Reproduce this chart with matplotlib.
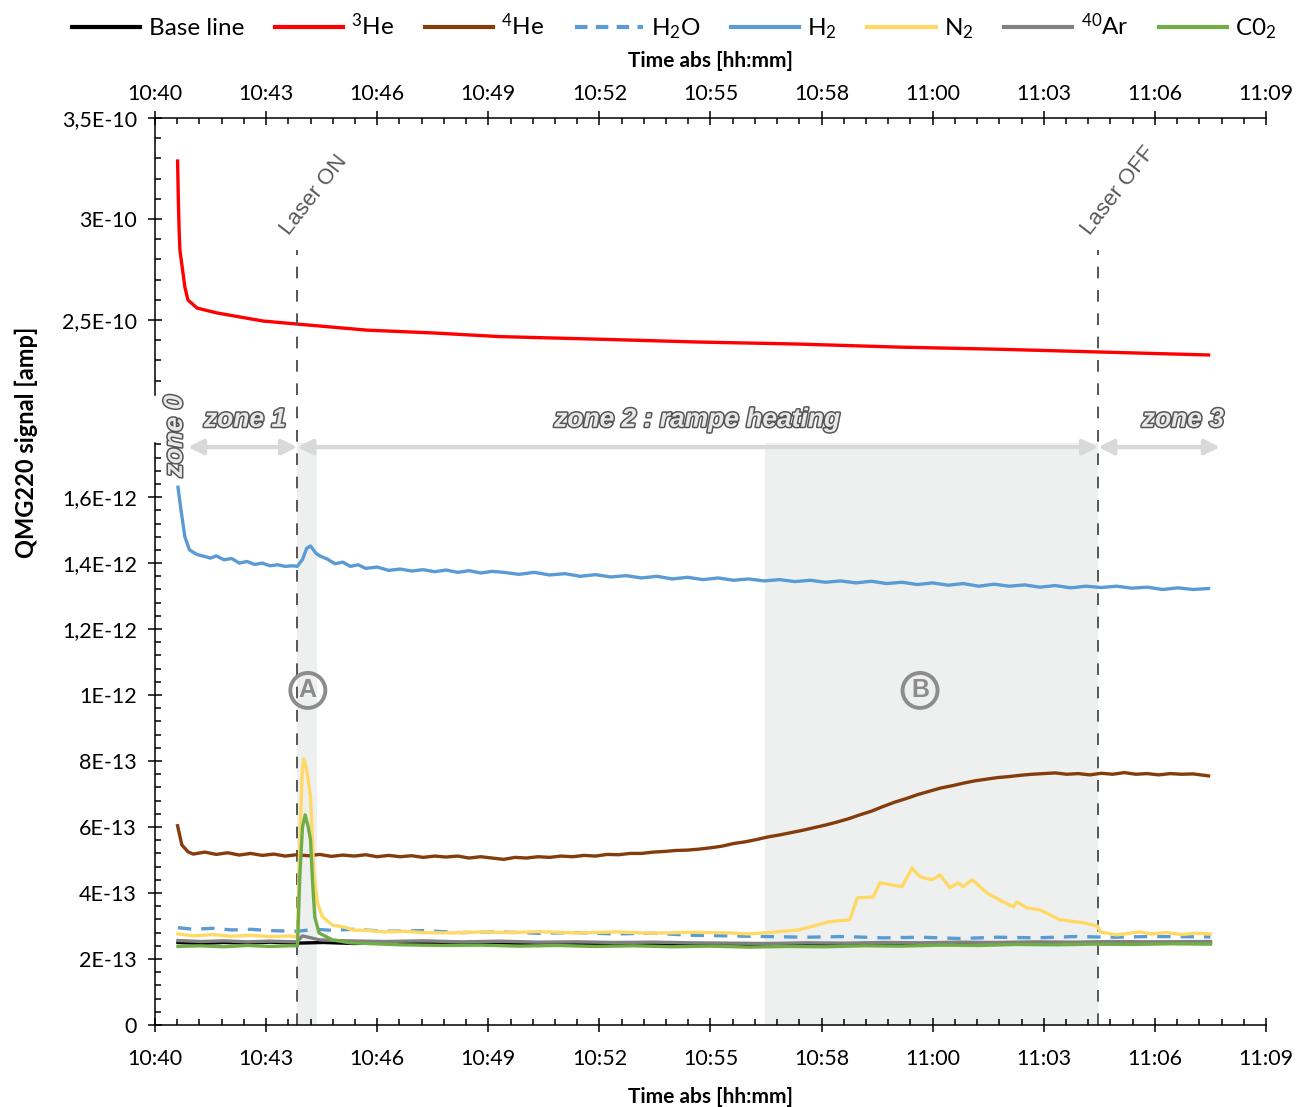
import numpy as np
import matplotlib
matplotlib.use('Agg')
import matplotlib.pyplot as plt
import matplotlib.patheffects as pe
from matplotlib.lines import Line2D
from matplotlib.ticker import FixedLocator, FixedFormatter, MultipleLocator, AutoMinorLocator

plt.rcParams['font.family'] = ['Lato', 'DejaVu Sans']
plt.rcParams['mathtext.fontset'] = 'custom'
plt.rcParams['mathtext.rm'] = 'Lato'
plt.rcParams['mathtext.it'] = 'Lato:italic'
plt.rcParams['mathtext.bf'] = 'Lato:bold'

# time in minutes after 10:40
x_ticklabels = ['10:40', '10:43', '10:46', '10:49', '10:52', '10:55',
                '10:58', '11:00', '11:03', '11:06', '11:09']
laser_on = 3.71
laser_off = 24.62
peak_a_end = 4.23
zone_b_start = 15.93

# 3He (E-10 amp)
he3_t = [0.59, 0.61, 0.63, 0.65, 0.78, 0.86, 1.10, 1.62, 2.82, 3.71, 5.53, 7.26,
         9.0, 11.6, 14.2, 16.8, 19.4, 22.1, 24.6, 27.5]
he3_v = [3.287, 3.09, 2.945, 2.847, 2.663, 2.599, 2.559, 2.535, 2.495, 2.480, 2.450,
         2.436, 2.418, 2.405, 2.391, 2.381, 2.366, 2.355, 2.342, 2.327]

# H2 (E-13 amp)
h2_t = [0.60, 0.68, 0.78, 0.90, 1.10, 1.30, 1.45, 1.6, 1.8, 2.0, 2.2, 2.4, 2.6, 2.8,
        3.0, 3.2, 3.4, 3.6, 3.71, 3.85, 3.96, 4.06, 4.2, 4.3, 4.5, 4.7, 4.9, 5.1,
        5.3, 5.5, 5.8, 6.1, 6.4, 6.7, 7.0, 7.3, 7.6, 7.9, 8.2, 8.5, 8.8, 9.1, 9.5,
        9.9, 10.3, 10.7, 11.1, 11.5, 11.9, 12.3, 12.7, 13.1, 13.5, 13.9, 14.3, 14.7,
        15.1, 15.5, 15.9, 16.3, 16.7, 17.1, 17.5, 17.9, 18.3, 18.7, 19.1, 19.5, 19.9,
        20.3, 20.7, 21.1, 21.5, 21.9, 22.3, 22.7, 23.1, 23.5, 23.9, 24.3, 24.7, 25.1,
        25.5, 25.9, 26.3, 26.7, 27.1, 27.5]
h2_v = [16.3, 15.6, 14.8, 14.4, 14.26, 14.2, 14.15, 14.22, 14.1, 14.14, 14.0, 14.05,
        13.96, 14.0, 13.92, 13.95, 13.9, 13.92, 13.9, 14.11, 14.45, 14.52, 14.3, 14.22,
        14.12, 13.98, 14.03, 13.9, 13.95, 13.84, 13.88, 13.78, 13.82, 13.76, 13.8,
        13.74, 13.79, 13.72, 13.77, 13.7, 13.75, 13.72, 13.66, 13.72, 13.64, 13.68,
        13.6, 13.65, 13.58, 13.62, 13.55, 13.6, 13.52, 13.57, 13.5, 13.55, 13.48,
        13.52, 13.46, 13.5, 13.44, 13.48, 13.42, 13.46, 13.4, 13.45, 13.38, 13.42,
        13.35, 13.4, 13.33, 13.38, 13.3, 13.36, 13.3, 13.34, 13.27, 13.32, 13.25,
        13.3, 13.26, 13.3, 13.24, 13.27, 13.2, 13.25, 13.2, 13.23]

# 4He (E-13 amp)
he4_t = [0.59, 0.7, 0.86, 1.0, 1.3, 1.6, 1.9, 2.2, 2.5, 2.8, 3.1, 3.4, 3.7, 4.0, 4.3,
         4.6, 4.9, 5.2, 5.5, 5.8, 6.1, 6.4, 6.7, 7.0, 7.3, 7.6, 7.9, 8.2, 8.5, 8.8,
         9.1, 9.4, 9.7, 10.0, 10.3, 10.6, 10.9, 11.2, 11.5, 11.8, 12.1, 12.4, 12.7,
         13.0, 13.3, 13.6, 13.9, 14.2, 14.5, 14.8, 15.1, 15.4, 15.7, 16.0, 16.3, 16.6,
         16.9, 17.2, 17.5, 17.8, 18.1, 18.4, 18.7, 19.0, 19.3, 19.6, 19.9, 20.2, 20.5,
         20.8, 21.1, 21.4, 21.7, 22.0, 22.3, 22.6, 22.9, 23.2, 23.5, 23.8, 24.1, 24.4,
         24.7, 25.0, 25.3, 25.6, 25.9, 26.2, 26.5, 26.8, 27.1, 27.5]
he4_v = [6.04, 5.46, 5.25, 5.18, 5.24, 5.17, 5.22, 5.15, 5.2, 5.14, 5.18, 5.12, 5.16,
         5.13, 5.17, 5.11, 5.15, 5.12, 5.16, 5.1, 5.14, 5.1, 5.13, 5.08, 5.12, 5.09,
         5.12, 5.06, 5.1, 5.06, 5.02, 5.08, 5.06, 5.1, 5.08, 5.12, 5.1, 5.14, 5.12,
         5.17, 5.16, 5.2, 5.2, 5.24, 5.26, 5.29, 5.3, 5.33, 5.37, 5.42, 5.5, 5.55,
         5.62, 5.7, 5.76, 5.83, 5.9, 5.98, 6.06, 6.15, 6.25, 6.37, 6.48, 6.62, 6.75,
         6.86, 6.98, 7.08, 7.18, 7.25, 7.33, 7.4, 7.45, 7.5, 7.53, 7.57, 7.6, 7.62,
         7.64, 7.6, 7.62, 7.58, 7.63, 7.6, 7.65, 7.6, 7.62, 7.58, 7.62, 7.6, 7.61, 7.55]

# N2 (E-13 amp)
n2_t = [0.6, 1.0, 1.5, 2.0, 2.5, 3.0, 3.5, 3.65, 3.72, 3.78, 3.84, 3.88, 3.95, 4.06,
        4.14, 4.24, 4.37, 4.63, 5.0, 5.15, 5.6, 6.0, 6.5, 7.0, 7.7, 8.5, 9.3, 10.0,
        11.0, 12.0, 13.0, 14.0, 15.0, 15.5, 16.0, 16.8, 17.6, 18.14, 18.33, 18.75,
        18.92, 19.5, 19.76, 19.97, 20.28, 20.49, 20.75, 20.96, 21.09, 21.33, 21.72,
        22.14, 22.4, 22.5, 22.76, 23.1, 23.62, 24.22, 24.6, 24.67, 25.1, 25.7, 26.0,
        26.4, 26.8, 27.1, 27.55]
n2_v = [2.76, 2.7, 2.74, 2.69, 2.72, 2.68, 2.7, 2.67, 2.75, 5.5, 7.6, 8.07, 7.8, 6.92,
        4.7, 3.7, 3.28, 3.03, 2.95, 2.88, 2.86, 2.82, 2.84, 2.8, 2.79, 2.82, 2.8, 2.83,
        2.79, 2.82, 2.78, 2.81, 2.79, 2.76, 2.8, 2.88, 3.13, 3.19, 3.85, 3.88, 4.31,
        4.19, 4.76, 4.49, 4.4, 4.55, 4.16, 4.31, 4.19, 4.4, 4.0, 3.73, 3.58, 3.73,
        3.55, 3.49, 3.19, 3.1, 3.0, 2.82, 2.73, 2.82, 2.76, 2.8, 2.74, 2.78, 2.76]

# H2O (E-13 amp)
h2o_t = [0.6, 1.0, 1.5, 2.0, 2.5, 3.0, 3.7, 4.2, 4.6, 5.2, 6.0, 7.0, 8.0, 9.0, 10.0,
         11.0, 12.0, 13.0, 14.0, 15.0, 16.0, 17.0, 18.0, 19.0, 20.0, 21.0, 22.0, 23.0,
         24.0, 25.0, 26.0, 27.55]
h2o_v = [2.95, 2.9, 2.93, 2.88, 2.9, 2.86, 2.84, 2.9, 2.87, 2.9, 2.84, 2.86, 2.8, 2.82,
         2.78, 2.8, 2.76, 2.78, 2.72, 2.7, 2.68, 2.66, 2.68, 2.64, 2.66, 2.62, 2.66,
         2.64, 2.68, 2.66, 2.68, 2.67]

# Base line (E-13 amp)
base_t = [0.6, 1.2, 1.8, 2.4, 3.0, 3.7, 4.4, 5.2, 6.0, 7.0, 8.0, 9.0, 10.0, 11.0, 12.0,
          13.0, 14.0, 15.0, 16.0, 17.0, 18.0, 19.0, 20.0, 21.0, 22.0, 23.0, 24.0, 25.0,
          26.0, 27.55]
base_v = [2.5, 2.47, 2.5, 2.48, 2.51, 2.48, 2.5, 2.47, 2.49, 2.46, 2.48, 2.45, 2.47,
          2.44, 2.46, 2.44, 2.45, 2.43, 2.45, 2.44, 2.46, 2.45, 2.47, 2.46, 2.48, 2.47,
          2.49, 2.48, 2.5, 2.49]

# 40Ar (E-13 amp)
ar_t = [0.6, 1.2, 1.8, 2.4, 3.0, 3.7, 3.85, 4.0, 4.3, 5.0, 6.0, 7.0, 8.0, 9.0, 10.0,
        11.0, 12.0, 13.0, 14.0, 15.0, 16.0, 17.0, 18.0, 19.0, 20.0, 21.0, 22.0, 23.0,
        24.0, 25.0, 26.0, 27.55]
ar_v = [2.56, 2.53, 2.55, 2.52, 2.54, 2.52, 2.7, 2.66, 2.58, 2.55, 2.53, 2.55, 2.52,
        2.54, 2.51, 2.52, 2.5, 2.51, 2.49, 2.48, 2.47, 2.49, 2.48, 2.5, 2.49, 2.51,
        2.5, 2.52, 2.51, 2.53, 2.52, 2.53]

# CO2 (E-13 amp)
co2_t = [0.6, 1.2, 1.8, 2.4, 3.0, 3.5, 3.72, 3.78, 3.85, 3.92, 4.0, 4.06, 4.11, 4.17,
         4.28, 4.63, 5.09, 6.4, 7.5, 8.5, 9.5, 10.5, 11.5, 12.5, 13.5, 14.5, 15.5, 16.5,
         17.5, 18.5, 19.5, 20.5, 21.5, 22.5, 23.5, 24.5, 25.5, 26.5, 27.55]
co2_v = [2.38, 2.4, 2.37, 2.41, 2.38, 2.4, 2.4, 4.5, 6.0, 6.37, 6.0, 5.6, 4.4, 3.28,
         2.79, 2.58, 2.49, 2.43, 2.41, 2.42, 2.39, 2.41, 2.38, 2.4, 2.37, 2.39, 2.36,
         2.38, 2.37, 2.4, 2.39, 2.42, 2.41, 2.44, 2.43, 2.45, 2.44, 2.46, 2.45]

c_base = 'black'
c_he3 = '#ff0000'
c_he4 = '#843c0c'
c_h2o = '#5b9bd5'
c_h2 = '#5b9bd5'
c_n2 = '#ffd966'
c_ar = '#808080'
c_co2 = '#70ad47'

fig = plt.figure(figsize=(12.97, 11.07), dpi=100)
ax_top = fig.add_axes([0.1195, 0.6432, 0.8566, 0.2502])
ax_bot = fig.add_axes([0.1195, 0.0741, 0.8566, 0.5257])
ax_top.patch.set_visible(False)
ax_bot.patch.set_visible(False)

lw = 2.4
ax_top.plot(he3_t, np.array(he3_v) * 1e-10, color=c_he3, lw=lw)

e13 = 1e-13
ax_bot.plot(base_t, np.array(base_v) * e13, color=c_base, lw=lw)
ax_bot.plot(he4_t, np.array(he4_v) * e13, color=c_he4, lw=lw)
ax_bot.plot(h2o_t, np.array(h2o_v) * e13, color=c_h2o, lw=lw, dashes=(4, 3))
ax_bot.plot(h2_t, np.array(h2_v) * e13, color=c_h2, lw=lw)
ax_bot.plot(n2_t, np.array(n2_v) * e13, color=c_n2, lw=lw)
ax_bot.plot(ar_t, np.array(ar_v) * e13, color=c_ar, lw=lw)
ax_bot.plot(co2_t, np.array(co2_v) * e13, color=c_co2, lw=lw)

# shaded zones
ax_bot.axvspan(laser_on, peak_a_end, color='#eef0ef', zorder=0, lw=0)
ax_bot.axvspan(zone_b_start, laser_off, color='#eef0ef', zorder=0, lw=0)

# axes limits / ticks
xmajor = np.linspace(0, 29, 11)
for ax in (ax_top, ax_bot):
    ax.set_xlim(0, 29)
    ax.xaxis.set_major_locator(FixedLocator(xmajor))
    ax.xaxis.set_major_formatter(FixedFormatter(x_ticklabels))
    ax.xaxis.set_minor_locator(AutoMinorLocator(5))
    ax.spines['right'].set_visible(False)
    ax.tick_params(which='major', direction='inout', length=10, width=1.1,
                   labelsize=15.5, pad=8)
    ax.tick_params(which='minor', direction='in', length=4.5, width=1.1)
    for s in ax.spines.values():
        s.set_linewidth(1.1)
ax_bot.tick_params(axis='x', which='major', pad=12)
ax_top.tick_params(axis='x', which='major', pad=5)

ax_top.set_ylim(2.129e-10, 3.5e-10)
ax_top.yaxis.set_major_locator(FixedLocator([2.5e-10, 3e-10, 3.5e-10]))
ax_top.yaxis.set_major_formatter(FixedFormatter(['2,5E-10', '3E-10', '3,5E-10']))
ax_top.yaxis.set_minor_locator(MultipleLocator(1e-11))
ax_top.spines['bottom'].set_visible(False)
ax_top.xaxis.tick_top()
ax_top.xaxis.set_label_position('top')
ax_top.set_xlabel('Time abs [hh:mm]', fontsize=15, fontweight='bold', labelpad=12)

ax_bot.set_ylim(0, 1.764e-12)
yb = [0, 2e-13, 4e-13, 6e-13, 8e-13, 1e-12, 1.2e-12, 1.4e-12, 1.6e-12]
ax_bot.yaxis.set_major_locator(FixedLocator(yb))
ax_bot.yaxis.set_major_formatter(FixedFormatter(['0', '2E-13', '4E-13', '6E-13', '8E-13',
                                                 '1E-12', '1,2E-12', '1,4E-12', '1,6E-12']))
ax_bot.yaxis.set_minor_locator(MultipleLocator(4e-14))
ax_bot.spines['top'].set_visible(False)
ax_bot.set_xlabel('Time abs [hh:mm]', fontsize=15, fontweight='bold', labelpad=13)

fig.text(0.02, 0.6, 'QMG220 signal [amp]', rotation=90, fontsize=17,
         fontweight='bold', ha='center', va='center')

# laser lines
for t in (laser_on, laser_off):
    ax_bot.axvline(t, ymin=0, ymax=1.332, clip_on=False, color='#555555',
                   lw=1.4, dashes=(6, 6), zorder=1)
tr = ax_bot.get_xaxis_transform()
ax_bot.text(laser_on - 0.1, 1.35, 'Laser ON', transform=tr, rotation=52,
            rotation_mode='anchor', ha='left', va='bottom', fontsize=16,
            color='#595959', family='Liberation Sans')
ax_bot.text(laser_off - 0.1, 1.35, 'Laser OFF', transform=tr, rotation=52,
            rotation_mode='anchor', ha='left', va='bottom', fontsize=16,
            color='#595959', family='Liberation Sans')

# zone arrows and labels
arrow_kw = dict(arrowstyle='<|-|>,head_length=0.9,head_width=0.45', color='#d9d9d9',
                lw=3, shrinkA=0, shrinkB=0)
for a, b in ((0.86, laser_on), (laser_on, laser_off), (laser_off, 27.8)):
    ax_bot.annotate('', xy=(a, 0.993), xytext=(b, 0.993), xycoords=tr,
                    textcoords=tr, arrowprops=arrow_kw, annotation_clip=False)

zone_fx = [pe.withStroke(linewidth=2.2, foreground='#555555')]
zone_kw = dict(transform=tr, fontsize=19, fontweight='bold', style='italic',
               color='#e8e8e8', family='Liberation Sans', ha='center', va='center',
               path_effects=zone_fx)
ax_bot.text(2.35, 1.04, 'zone 1', **zone_kw)
ax_bot.text(14.15, 1.04, 'zone 2 : rampe heating', **zone_kw)
ax_bot.text(26.83, 1.04, 'zone 3', **zone_kw)
ax_bot.text(0.52, 1.012, 'zone 0', rotation=90, **zone_kw)

# circled letters
for t, lab in ((3.99, 'A'), (19.97, 'B')):
    ax_bot.text(t, 1.014e-12, lab, ha='center', va='center', fontsize=18,
                fontweight='bold', color='#8c8c8c', family='Liberation Sans',
                bbox=dict(boxstyle='circle,pad=0.22', fc='none', ec='#8c8c8c', lw=2.8))

# legend
handles = [
    Line2D([], [], color=c_base, lw=3),
    Line2D([], [], color=c_he3, lw=3),
    Line2D([], [], color=c_he4, lw=3),
    Line2D([], [], color=c_h2o, lw=3, dashes=(3, 2)),
    Line2D([], [], color=c_h2, lw=3),
    Line2D([], [], color=c_n2, lw=3),
    Line2D([], [], color=c_ar, lw=3),
    Line2D([], [], color=c_co2, lw=3),
]
labels = ['Base line', r'$\mathregular{^{3}He}$', r'$\mathregular{^{4}He}$',
          r'$\mathregular{H_{2}O}$', r'$\mathregular{H_{2}}$', r'$\mathregular{N_{2}}$',
          r'$\mathregular{^{40}Ar}$', r'$\mathregular{C0_{2}}$']
fig.legend(handles, labels, loc='center', bbox_to_anchor=(0.52, 0.976), ncol=8,
           frameon=False, fontsize=17.5, handlelength=2.8, handletextpad=0.35,
           columnspacing=1.25)

fig.savefig('out.png', dpi=100)
